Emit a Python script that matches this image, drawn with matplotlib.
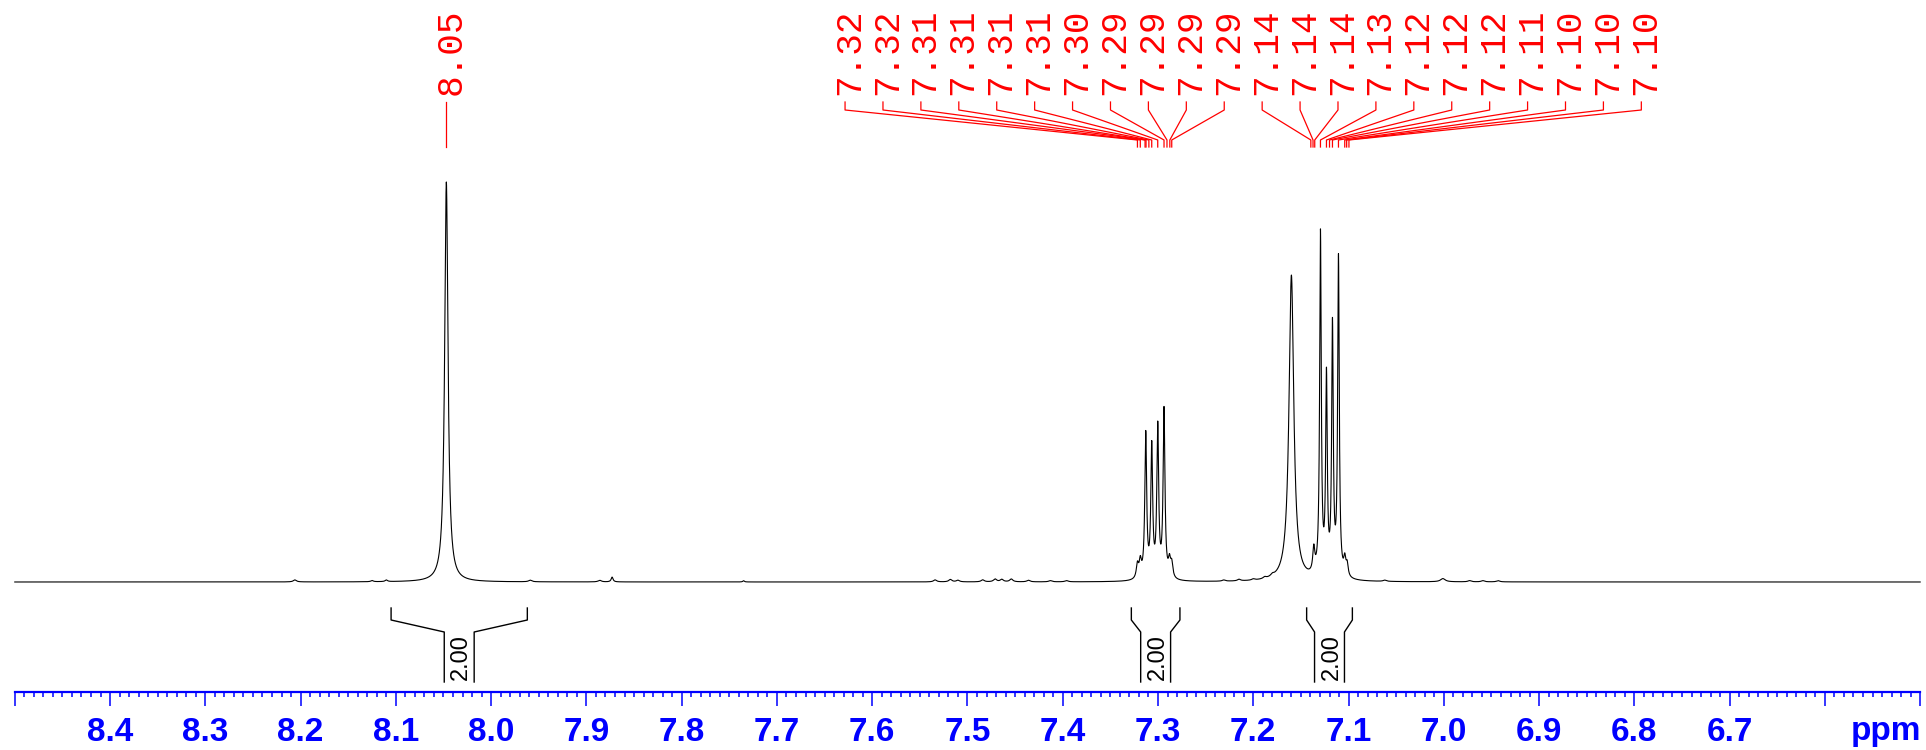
import numpy as np
import matplotlib
matplotlib.use("Agg")
import matplotlib.pyplot as plt

# 1H NMR spectrum, peaks (ppm, height in % of tallest, half width in ppm)
peak_ppm = [8.206, 8.125, 8.110, 8.047, 7.959, 7.886, 7.873, 7.735,
            7.534, 7.518, 7.510, 7.484, 7.471, 7.464, 7.454, 7.436, 7.413, 7.396,
            7.3216, 7.3186, 7.3129, 7.3066, 7.3003, 7.2937, 7.2880, 7.2856,
            7.231, 7.215, 7.200, 7.188, 7.180,
            7.160, 7.1365, 7.1295, 7.1232, 7.1169, 7.1106, 7.1040, 7.1015,
            7.062, 7.001, 6.973, 6.959, 6.943]
peak_height = [0.5, 0.3, 0.4, 100, 0.4, 0.4, 1.2, 0.3,
               0.5, 0.6, 0.4, 0.5, 0.7, 0.6, 0.7, 0.4, 0.3, 0.3,
               3.5, 4.0, 36, 32.5, 37.5, 42, 4.0, 3.5,
               0.3, 0.4, 0.3, 0.4, 0.5,
               76.5, 6.0, 85.5, 49, 62, 79.5, 4.0, 3.0,
               0.3, 0.8, 0.3, 0.3, 0.3]
peak_width = [0.002, 0.0015, 0.0015, 0.0021, 0.002, 0.002, 0.0012, 0.001,
              0.002, 0.002, 0.002, 0.002, 0.002, 0.002, 0.002, 0.002, 0.002, 0.002,
              0.0014, 0.0014, 0.00115, 0.00115, 0.00115, 0.00115, 0.0014, 0.0014,
              0.002, 0.002, 0.002, 0.002, 0.002,
              0.003, 0.0013, 0.001, 0.001, 0.001, 0.001, 0.0013, 0.0013,
              0.002, 0.003, 0.002, 0.002, 0.002]

# peak picking labels
pick_single = [8.047]
pick_group = [7.3216, 7.3186, 7.3136, 7.3126, 7.3096, 7.3066, 7.3003, 7.2937, 7.2906, 7.2876, 7.2856,
              7.1396, 7.1373, 7.1355, 7.1295, 7.1232, 7.1200, 7.1169, 7.1106, 7.1040, 7.1020, 7.0996]

# integrals
int_start = [8.105, 7.328, 7.144]
int_end = [7.962, 7.277, 7.096]
int_value = [2.00, 2.00, 2.00]

tick_labels = ["8.4", "8.3", "8.2", "8.1", "8.0", "7.9", "7.8", "7.7", "7.6",
               "7.5", "7.4", "7.3", "7.2", "7.1", "7.0", "6.9", "6.8", "6.7"]

red = "#ff0000"
blue = "#0000ff"

fig = plt.figure(figsize=(19.26, 7.5), dpi=100)
ax = fig.add_axes([0, 0, 1, 1])
ax.set_xlim(8.5155, 6.4939)
ax.set_ylim(-42, 145.5)

# spectrum as sum of lorentzian lines
x = np.linspace(8.5, 6.5, 40001)
y = np.zeros_like(x)
for p, h, w in zip(peak_ppm, peak_height, peak_width):
    y += h / (1 + ((x - p) / w) ** 2)
ax.plot(x, y, color="black", lw=0.8)

# peak labels
def leader(lx, px):
    ax.plot([lx, lx, px, px], [120, 118, 110.5, 108.75], color=red, lw=0.9)
    ax.text(lx - 0.0045, 121.8, f"{px:.2f}", rotation=90, ha="center", va="bottom",
            color=red, fontsize=26, family="Liberation Mono")

for p in pick_single:
    leader(p, p)

spacing = 0.0398
center = (max(pick_group) + min(pick_group)) / 2
n = len(pick_group)
for i, p in enumerate(pick_group):
    lx = center + (n - 1) / 2 * spacing - i * spacing
    leader(lx, p)

# integral brackets
half = 0.0157
for s, e, v in zip(int_start, int_end, int_value):
    c = (s + e) / 2
    ax.plot([s, s, c + half, c + half], [-6.5, -9.5, -12.5, -25], color="black", lw=1)
    ax.plot([e, e, c - half, c - half], [-6.5, -9.5, -12.5, -25], color="black", lw=1)
    ax.text(c - 0.002, -18.7, f"{v:.2f}", rotation=90, ha="center", va="center",
            color="black", fontsize=17, family="Liberation Sans")

# ppm axis
for side in ["left", "right", "top"]:
    ax.spines[side].set_visible(False)
ax.spines["bottom"].set_position(("data", -27.5))
ax.spines["bottom"].set_bounds(6.5, 8.5)
ax.spines["bottom"].set_color(blue)
ax.spines["bottom"].set_linewidth(1.6)
ax.set_yticks([])

major = [8.5] + [float(t) for t in tick_labels] + [6.6, 6.5]
ax.set_xticks(major)
ax.set_xticklabels([""] + tick_labels + ["", ""])
ax.set_xticks(np.arange(650, 851) / 100, minor=True)
ax.tick_params(axis="x", which="major", direction="out", length=10, width=1.1,
               color=blue, pad=8, labelsize=24, labelcolor=blue)
ax.tick_params(axis="x", which="minor", direction="out", length=3.6, width=1.1, color=blue)
for lab in ax.get_xticklabels():
    lab.set_fontweight("bold")
    lab.set_family("Liberation Sans")

ax.text(6.536, -37.3, "ppm", ha="center", va="center", color=blue,
        fontsize=24, fontweight="bold", family="Liberation Sans")

fig.savefig("out.png", dpi=100, facecolor="white")
